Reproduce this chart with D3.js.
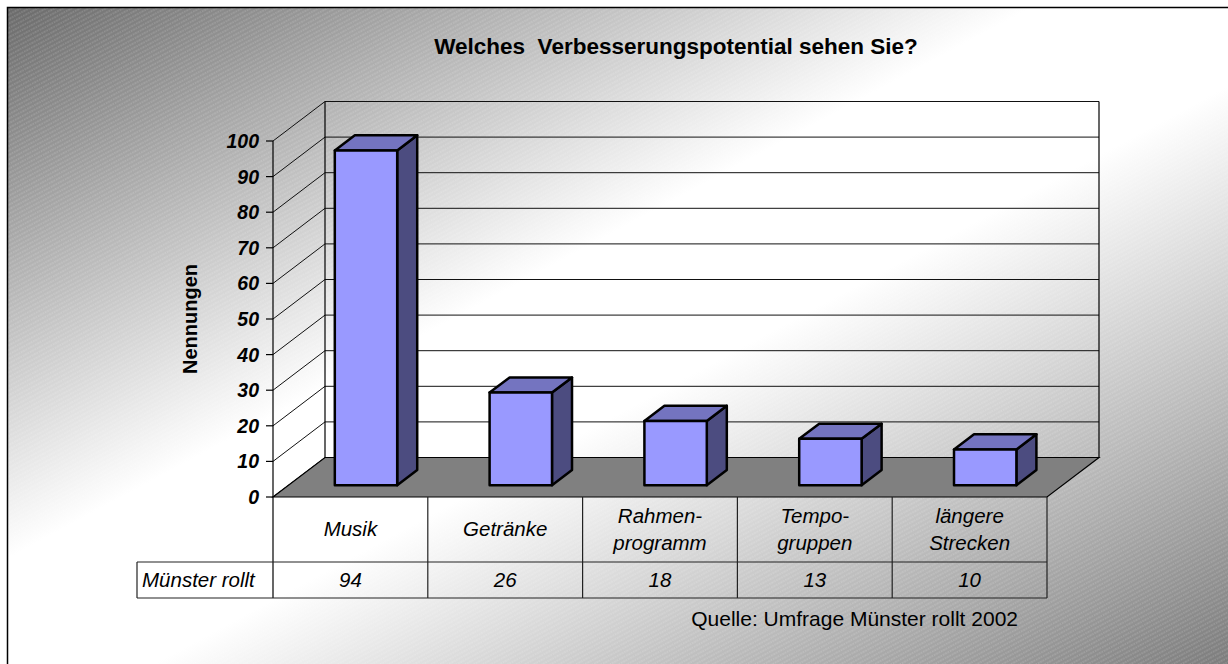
<!DOCTYPE html>
<html>
<head>
<meta charset="utf-8">
<script src="https://cdn.jsdelivr.net/npm/d3@7"></script>
<style>
  html, body { margin: 0; padding: 0; background: #fff; overflow: hidden; }
  svg { display: block; font-family: "Liberation Sans", Arial, sans-serif; }
</style>
</head>
<body>
<svg id="chart" width="1228" height="664"></svg>
<script>
// data
var chartTitle = "Welches  Verbesserungspotential sehen Sie?";
var axisTitle = "Nennungen";
var sourceText = "Quelle: Umfrage Münster rollt 2002";
var seriesName = "Münster rollt";
var categories = [["Musik"], ["Getränke"], ["Rahmen-", "programm"], ["Tempo-", "gruppen"], ["längere", "Strecken"]];
var values = [94, 26, 18, 13, 10];
var yTicks = [0, 10, 20, 30, 40, 50, 60, 70, 80, 90, 100];

var svg = d3.select("#chart");
var defs = svg.append("defs");

// background gradient, dark top-left -> white band -> gray bottom-right
var grad = defs.append("linearGradient")
    .attr("id", "bg")
    .attr("x1", 0).attr("y1", 0).attr("x2", 1).attr("y2", 1);
grad.append("stop").attr("offset", 0).attr("stop-color", "#6a6a6a");
grad.append("stop").attr("offset", 0.42).attr("stop-color", "#ffffff");
grad.append("stop").attr("offset", 0.56).attr("stop-color", "#ffffff");
grad.append("stop").attr("offset", 1).attr("stop-color", "#7c7c7c");

var hatch = defs.append("pattern")
    .attr("id", "hatch")
    .attr("patternUnits", "userSpaceOnUse")
    .attr("width", 8).attr("height", 4)
    .attr("patternTransform", "rotate(-28)");
hatch.append("line")
    .attr("x1", 0).attr("y1", 1).attr("x2", 8).attr("y2", 1)
    .attr("stroke", "#fff").attr("stroke-opacity", 0.28)
    .attr("stroke-width", 1).attr("stroke-dasharray", "1.5,1");

svg.append("rect").attr("x", 7).attr("y", 7).attr("width", 1221).attr("height", 657)
    .attr("fill", "url(#bg)");
svg.append("rect").attr("x", 7).attr("y", 7).attr("width", 1221).attr("height", 657)
    .attr("fill", "url(#hatch)");
// frame: only top and left edges are inside the picture
svg.append("path").attr("d", "M7.5,664V7.5H1228")
    .attr("fill", "none").attr("stroke", "#000").attr("stroke-width", 1.5);

// scales
var x = d3.scaleBand().domain(d3.range(values.length)).range([273, 1047]);
var y = d3.scaleLinear().domain([0, 100]).range([497, 141]);
var depthX = 52, depthY = 39.5;   // full floor depth offset
var f1 = 0.3, f2 = 0.685;           // bar front / back depth fraction

var g = svg.append("g");

// back wall gridlines
g.selectAll(".grid").data(yTicks).enter().append("line")
    .attr("x1", x.range()[0] + depthX).attr("x2", x.range()[1] + depthX)
    .attr("y1", function(d){ return y(d) - depthY; })
    .attr("y2", function(d){ return y(d) - depthY; })
    .attr("stroke", "#111").attr("stroke-width", 1);

// side wall lines
g.selectAll(".side").data(yTicks).enter().append("line")
    .attr("x1", x.range()[0]).attr("y1", function(d){ return y(d); })
    .attr("x2", x.range()[0] + depthX).attr("y2", function(d){ return y(d) - depthY; })
    .attr("stroke", "#111").attr("stroke-width", 1);

// wall verticals
[x.range()[0] + depthX, x.range()[1] + depthX].forEach(function(xx){
  g.append("line").attr("x1", xx).attr("x2", xx)
    .attr("y1", y(100) - depthY).attr("y2", y(0) - depthY)
    .attr("stroke", "#000").attr("stroke-width", 1.2);
});

// floor
var floorPts = [[x.range()[0], y(0)], [x.range()[1], y(0)],
                [x.range()[1] + depthX, y(0) - depthY], [x.range()[0] + depthX, y(0) - depthY]];
g.append("polygon")
    .attr("points", floorPts.map(function(p){ return p.join(","); }).join(" "))
    .attr("fill", "#808080").attr("stroke", "#000").attr("stroke-width", 1.2);

// front axis + ticks
g.append("line").attr("x1", 273).attr("x2", 273).attr("y1", y(100)).attr("y2", 598)
    .attr("stroke", "#000").attr("stroke-width", 1.2);
g.selectAll(".tick").data(yTicks).enter().append("line")
    .attr("x1", 266).attr("x2", 273)
    .attr("y1", function(d){ return y(d); }).attr("y2", function(d){ return y(d); })
    .attr("stroke", "#000").attr("stroke-width", 1.2);
g.selectAll(".tl").data(yTicks).enter().append("text")
    .attr("x", 259).attr("y", function(d){ return y(d) + 7; })
    .attr("text-anchor", "end")
    .style("font-size", "19.5px").style("font-weight", "bold").style("font-style", "italic")
    .text(function(d){ return d; });

// bars
var bw = x.bandwidth() * 0.403;
var ddx = depthX * (f2 - f1), ddy = depthY * (f2 - f1);
function pts(a){ return a.map(function(p){ return p.join(","); }).join(" "); }

var bar = g.selectAll(".bar").data(values).enter().append("g").attr("class", "bar");
bar.each(function(v, i){
  var x0 = x(i) + (x.bandwidth() - bw) / 2 + depthX * f1;
  var yb = y(0) - depthY * f1;
  var yt = y(v) - depthY * f1;
  var sel = d3.select(this);
  sel.append("polygon")
    .attr("points", pts([[x0 + bw, yb], [x0 + bw + ddx, yb - ddy], [x0 + bw + ddx, yt - ddy], [x0 + bw, yt]]))
    .attr("fill", "#4c4c80");
  sel.append("polygon")
    .attr("points", pts([[x0, yt], [x0 + bw, yt], [x0 + bw + ddx, yt - ddy], [x0 + ddx, yt - ddy]]))
    .attr("fill", "#7474c0");
  sel.append("polygon")
    .attr("points", pts([[x0, yb], [x0 + bw, yb], [x0 + bw, yt], [x0, yt]]))
    .attr("fill", "#9999ff");
  sel.selectAll("polygon").attr("stroke", "#000").attr("stroke-width", 2.5)
    .attr("stroke-linejoin", "round");
});

// data table
var tb = g.append("g").attr("stroke", "#222").attr("stroke-width", 1.2);
tb.append("line").attr("x1", 137).attr("x2", 1047).attr("y1", 562).attr("y2", 562);
tb.append("line").attr("x1", 137).attr("x2", 1047).attr("y1", 598).attr("y2", 598);
tb.append("line").attr("x1", 137).attr("x2", 137).attr("y1", 562).attr("y2", 598);
tb.selectAll(".vl").data(d3.range(1, values.length + 1)).enter().append("line")
    .attr("x1", function(d){ return x.range()[0] + d * x.bandwidth(); })
    .attr("x2", function(d){ return x.range()[0] + d * x.bandwidth(); })
    .attr("y1", 497).attr("y2", 598);

var cat = g.selectAll(".cat").data(categories).enter().append("text")
    .attr("text-anchor", "middle")
    .style("font-size", "20.5px").style("font-style", "italic");
cat.each(function(lines, i){
  var t = d3.select(this);
  var cx = x(i) + x.bandwidth() / 2;
  var first = lines.length == 1 ? 536 : 522.5;
  lines.forEach(function(s, k){
    t.append("tspan").attr("x", cx).attr("y", first + k * 27).text(s);
  });
});

g.selectAll(".val").data(values).enter().append("text")
    .attr("x", function(d, i){ return x(i) + x.bandwidth() / 2; })
    .attr("y", 587)
    .attr("text-anchor", "middle")
    .style("font-size", "20.5px").style("font-style", "italic")
    .text(function(d){ return d; });

g.append("text").attr("x", 142).attr("y", 587)
    .style("font-size", "20.5px").style("font-style", "italic")
    .text(seriesName);

// titles
svg.append("text").attr("x", 676).attr("y", 54)
    .attr("text-anchor", "middle")
    .style("font-size", "22.5px").style("font-weight", "bold").style("white-space", "pre")
    .text(chartTitle);

svg.append("text")
    .attr("transform", "translate(197,319) rotate(-90)")
    .attr("text-anchor", "middle")
    .style("font-size", "20px").style("font-weight", "bold")
    .text(axisTitle);

svg.append("text").attr("x", 1018).attr("y", 626)
    .attr("text-anchor", "end")
    .style("font-size", "21px")
    .text(sourceText);
</script>
</body>
</html>
